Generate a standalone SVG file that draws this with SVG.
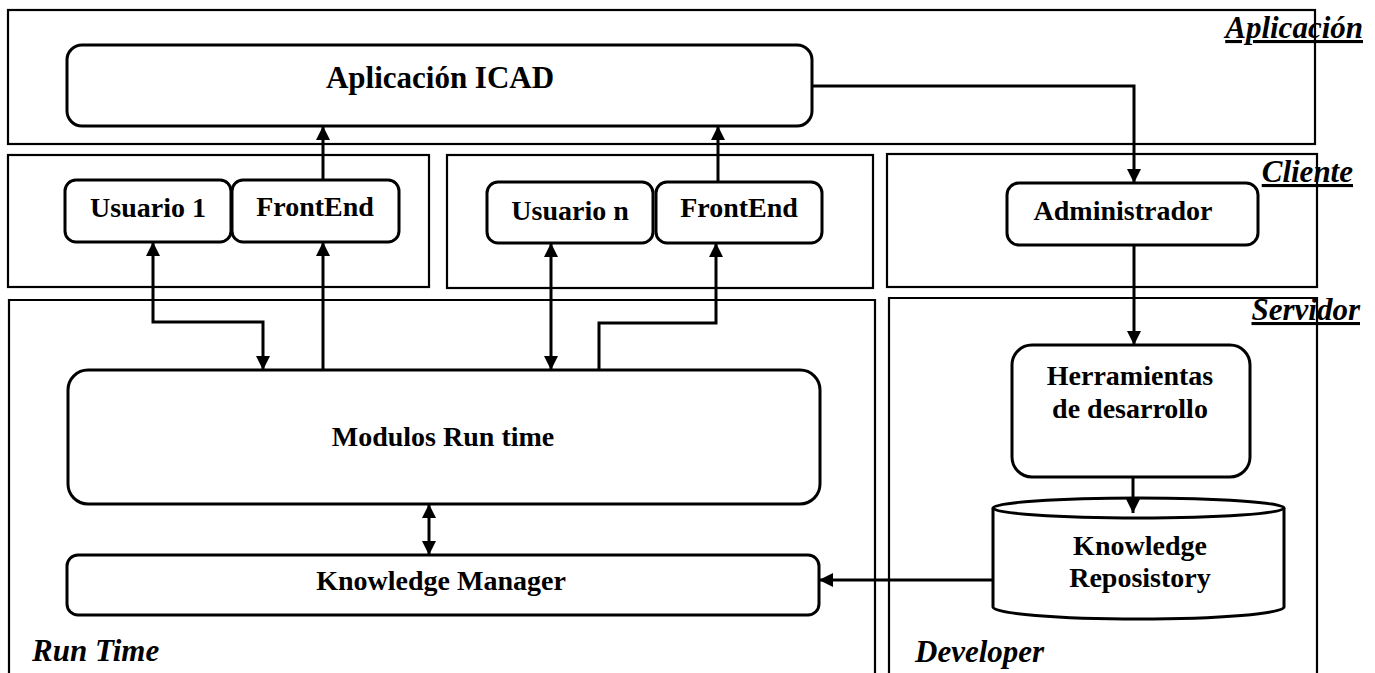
<svg xmlns="http://www.w3.org/2000/svg" width="1375" height="673" viewBox="0 0 1375 673">
<style>
.pane{fill:none;stroke:#000;stroke-width:2.2}
.node{fill:#fff;stroke:#000;stroke-width:3}
.lbl{font-family:"Liberation Serif","Times New Roman",serif;font-weight:bold;font-size:28px;fill:#000;text-anchor:middle}
.big{font-size:31px}
.sec{font-family:"Liberation Serif","Times New Roman",serif;font-weight:bold;font-style:italic;font-size:31px;fill:#000}
.u{text-decoration:underline}
.conn{fill:none;stroke:#000;stroke-width:3}
</style>
<defs>
<marker id="ah" viewBox="0 0 12 12" refX="12" refY="6" markerWidth="14" markerHeight="14" markerUnits="userSpaceOnUse" orient="auto-start-reverse">
<path d="M0,0 L12,6 L0,12 Z" fill="#000"/>
</marker>
</defs>
<rect width="1375" height="673" fill="#fff"/>
<g id="panes">
<rect class="pane" x="8" y="10" width="1307" height="134"/>
<rect class="pane" x="8" y="155" width="421" height="132"/>
<rect class="pane" x="447" y="155" width="426" height="133"/>
<rect class="pane" x="887" y="154" width="430" height="133"/>
<path class="pane" d="M9,673 V300 H875 V673"/>
<path class="pane" d="M889,673 V298 H1317 V673"/>
</g>
<g id="section-labels">
<text class="sec u" x="1363" y="38" text-anchor="end">Aplicación</text>
<text class="sec u" x="1353" y="182" text-anchor="end">Cliente</text>
<text class="sec u" x="1360" y="320" text-anchor="end">Servidor</text>
<text class="sec" x="32" y="661">Run Time</text>
<text class="sec" x="915" y="662">Developer</text>
</g>
<g id="aplicacion-icad">
<rect class="node" x="67" y="45" width="745" height="81" rx="15"/>
<text class="lbl big" x="440" y="88">Aplicación ICAD</text>
</g>
<g id="usuario-1">
<rect class="node" x="65" y="180" width="166" height="62" rx="11"/>
<text class="lbl" x="148" y="217">Usuario 1</text>
</g>
<g id="frontend-1">
<rect class="node" x="232" y="180" width="167" height="62" rx="11"/>
<text class="lbl" x="315" y="216">FrontEnd</text>
</g>
<g id="usuario-n">
<rect class="node" x="487" y="182" width="166" height="61" rx="11"/>
<text class="lbl" x="570" y="220">Usuario n</text>
</g>
<g id="frontend-n">
<rect class="node" x="656" y="182" width="166" height="61" rx="11"/>
<text class="lbl" x="739" y="217">FrontEnd</text>
</g>
<g id="administrador">
<rect class="node" x="1007" y="183" width="251" height="62" rx="12"/>
<text class="lbl" x="1123" y="220">Administrador</text>
</g>
<g id="modulos-run-time">
<rect class="node" x="68" y="370" width="752" height="134" rx="20"/>
<text class="lbl" x="443" y="446">Modulos Run time</text>
</g>
<g id="knowledge-manager">
<rect class="node" x="67" y="555" width="752" height="60" rx="11"/>
<text class="lbl" x="441" y="590">Knowledge Manager</text>
</g>
<g id="herramientas">
<rect class="node" x="1012" y="345" width="238" height="132" rx="20"/>
<text class="lbl" x="1130" y="385">Herramientas</text>
<text class="lbl" x="1130" y="418">de desarrollo</text>
</g>
<g id="knowledge-repository">
<path class="node" d="M993,508 V607 A145.5,12 0 0 0 1284,607 V508"/>
<ellipse class="node" cx="1138.5" cy="508" rx="145.5" ry="10"/>
<text class="lbl" x="1140" y="555">Knowledge</text>
<text class="lbl" x="1140" y="587">Reposistory</text>
</g>
<g id="connectors">
<path class="conn" d="M323,180 V126" marker-end="url(#ah)"/>
<path class="conn" d="M718,182 V126" marker-end="url(#ah)"/>
<path class="conn" d="M812,86 H1134 V183" marker-end="url(#ah)"/>
<path class="conn" d="M153,242 V322 H263 V370" marker-start="url(#ah)" marker-end="url(#ah)"/>
<path class="conn" d="M323,370 V242" marker-end="url(#ah)"/>
<path class="conn" d="M551,243 V370" marker-start="url(#ah)" marker-end="url(#ah)"/>
<path class="conn" d="M599,370 V323 H716 V243" marker-end="url(#ah)"/>
<path class="conn" d="M429,504 V555" marker-start="url(#ah)" marker-end="url(#ah)"/>
<path class="conn" d="M993,580 H819" marker-end="url(#ah)"/>
<path class="conn" d="M1134,245 V345" marker-end="url(#ah)"/>
<path class="conn" d="M1133,477 V513" marker-end="url(#ah)"/>
</g>
</svg>
